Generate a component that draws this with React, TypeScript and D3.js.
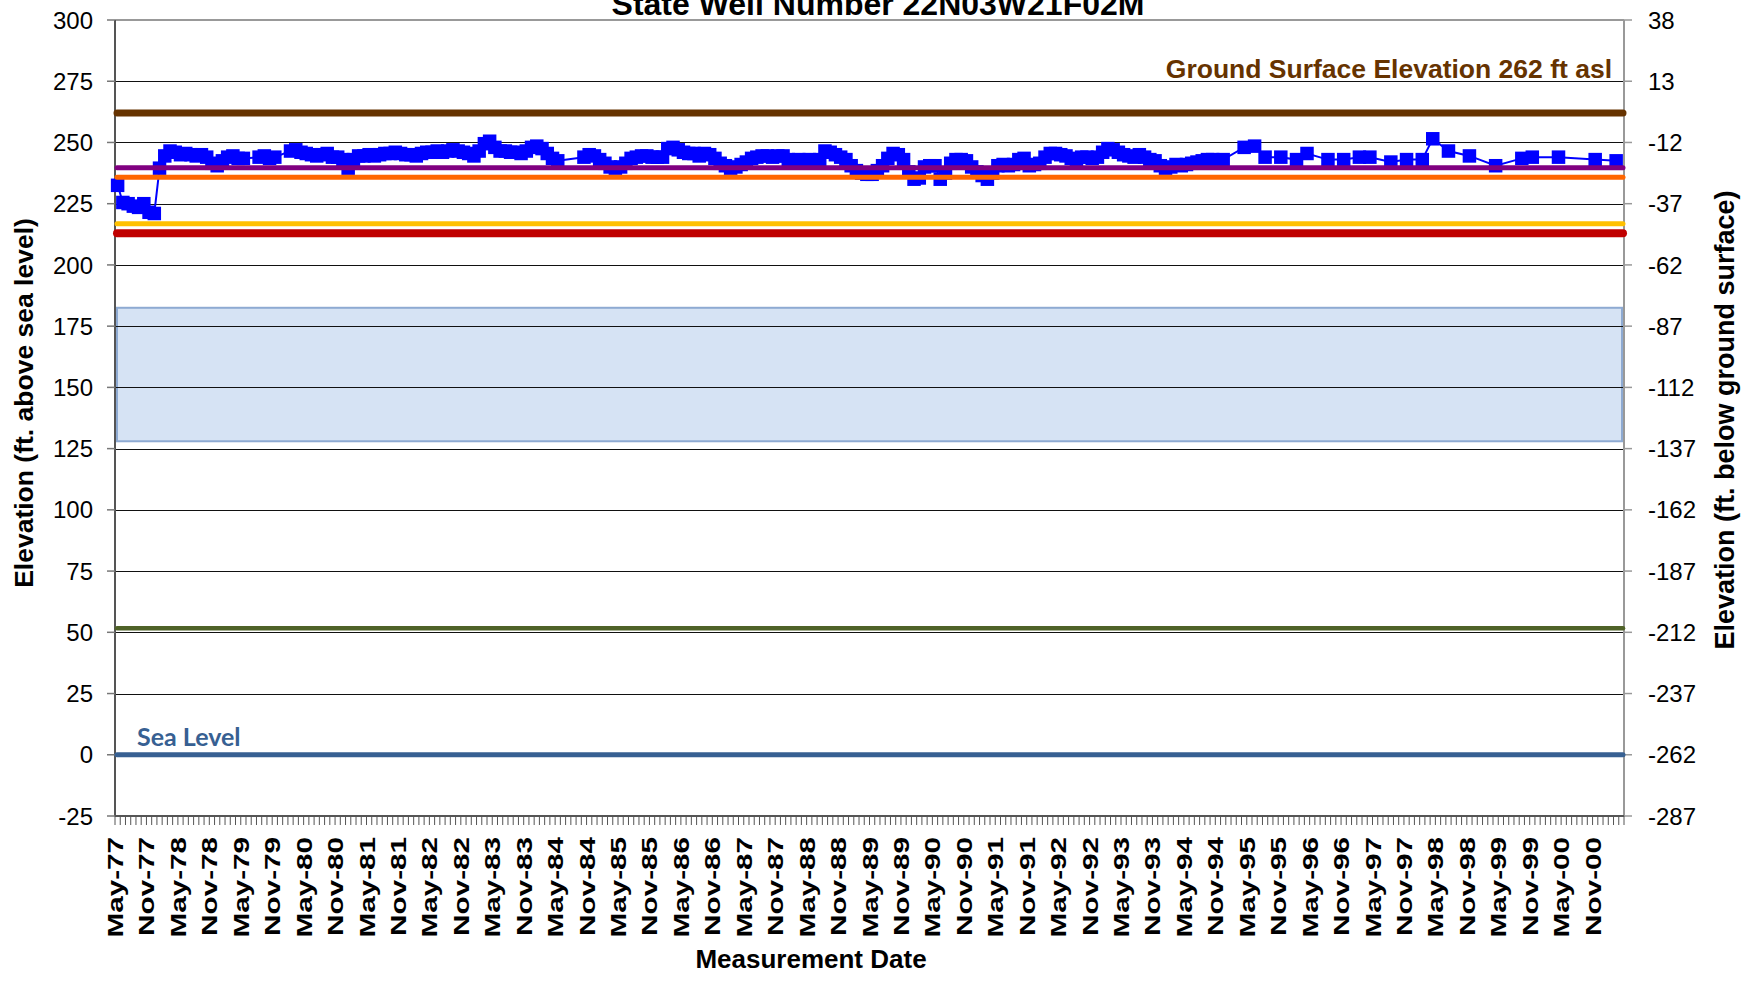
import React from "react";
import * as d3 from "d3";

// ---------- data ----------
const chartTitle = "State Well Number 22N03W21F02M";
const xAxisTitle = "Measurement Date";
const yLeftTitle = "Elevation (ft. above sea level)";
const yRightTitle = "Elevation (ft. below ground surface)";
const groundLabel = "Ground Surface Elevation 262 ft asl";
const seaLabel = "Sea Level";

const axisStartMonth = "1977-05";
const axisEndMonth = "2001-05"; // exclusive
const yTicksLeft = [-25, 0, 25, 50, 75, 100, 125, 150, 175, 200, 225, 250, 275, 300];
const yTicksRight = [-287, -262, -237, -212, -187, -162, -137, -112, -87, -62, -37, -12, 13, 38];

// horizontal reference levels (ft asl)
const groundSurface = 262;
const purpleLevel = 239.7;
const orangeLevel = 235.8;
const yellowLevel = 216.8;
const redLevel = 212.9;
const greenLevel = 51.7;
const seaLevel = 0;
const bandLow = 128;
const bandHigh = 182.5;

// monthly measurements starting May-77 (null = no measurement)
const monthlyStart = "1977-05";
const monthlyElev: (number | null)[] = [
  232.5, 225.5, 225, 224, 223.5, 225, 221.5, 221, 239.5, 244.5, 246.5, 246,
  245, 245.5, 245, 244.5, 245, 244, 241.5, 240.5, 242.5, 244, 244.5, 243.5,
  243.5, null, null, 244, 244.5, 243.5, 244, null, null, 246.5, 247, 246,
  245.5, 245, 244.5, 245, 245.5, 244, 244, 243, 239.5, 243, 244.5, 244.5,
  245, 244.5, 245, 245.5, 245.5, 246, 245.5, 245, 245, 244.5, 245.5, 246,
  246, 246.5, 246, 246.5, 247, 246.5, 246, 245.5, 244.5, 246.5, 249.5, 250.5,
  248, 246.5, 246.5, 246, 246, 245.5, 246.5, 248, 248.5, 247.5, 245.5, 243.5,
  242.5, null, null, null, null, 244, 245, 244.5, 243, 241.5, 240, 239.5,
  240, 241.5, 243.5, 244, 244.5, 244.5, 244, 244, 244, 247.5, 248, 247,
  246, 245.5, 245.5, 244.5, 245.5, 245, 243.5, 241.5, 240.5, 239.5, 240, 241,
  242, 243.5, 244, 244.5, 244.5, 244, 244.5, 244.5, 243, 242.5, 243, 242.5,
  243, 242.5, 243, 246.5, 246, 245, 244, 243, 240.5, 238.5, 237.5, 237,
  237, 238.5, 240.5, 243.5, 245.5, 245, 243, 238, 235, 235.5, 240, 240.5,
  240.5, 235, 237.5, 241.5, 243, 243, 242.5, 240, 238, 236.5, 235, 237.5,
  240.5, 241, 240.5, 241, 243, 243.5, 240.5, 241, 241.5, 244, 245.5, 245.5,
  245, 244.5, 243.5, 242.5, 244, 244, 243.5, 244, 246, 247.5, 247, 246,
  245, 244.5, 244, 245, 244, 243, 242.5, 240.5, 239.5, 240, 241, 240.5,
  241, 241.5, 242, 242.5, 243, 243, 242.5, 243, null, null, null, 248,
  null, 248.5,
];

// later, less frequent measurements
const laterDates = [
  "1995-08", "1995-11", "1996-02", "1996-04", "1996-08", "1996-11", "1997-02",
  "1997-04", "1997-08", "1997-11", "1998-02", "1998-04", "1998-07", "1998-11",
  "1999-04", "1999-09", "1999-11", "2000-04", "2000-11", "2001-03",
];
const laterElev = [
  244, 244, 243, 245.5, 243, 243, 244, 244, 242, 243, 243, 251.5, 246.5, 244.5,
  240.5, 243.5, 244, 244, 243, 242.5,
];

// ---------- component ----------
const FONT = "Arial, 'Liberation Sans', sans-serif";

function parseMonth(s: string) {
  const [yy, mm] = s.split("-").map(Number);
  return new Date(yy, mm - 1, 1);
}

export default function App() {
  const W = 1743;
  const H = 981;
  const L = 115;
  const R = 1624;
  const T = 20;
  const B = 816;

  const months = d3.timeMonth.range(parseMonth(axisStartMonth), parseMonth(axisEndMonth));
  const x = d3
    .scaleBand<number>()
    .domain(d3.range(months.length))
    .range([L, R])
    .padding(0);
  const bw = x.bandwidth();
  const y = d3.scaleLinear().domain([-25, 300]).range([B, T]);
  const yR = d3.scaleLinear().domain([-287, 38]).range([B, T]);
  const fmt = d3.timeFormat("%b-%y");

  const start0 = parseMonth(axisStartMonth);
  const idx = (s: string) => d3.timeMonth.count(start0, parseMonth(s));
  const cx = (i: number) => (x(i) as number) + bw / 2;

  const pts: { i: number; v: number }[] = [];
  const ms = idx(monthlyStart);
  monthlyElev.forEach((v, k) => {
    if (v != null) pts.push({ i: ms + k, v });
  });
  laterDates.forEach((d, k) => pts.push({ i: idx(d), v: laterElev[k] }));

  const line = d3
    .line<{ i: number; v: number }>()
    .x((d) => cx(d.i))
    .y((d) => y(d.v));

  const refs = [
    { v: groundSurface, c: "#663300", w: 7 },
    { v: purpleLevel, c: "#800080", w: 5 },
    { v: orangeLevel, c: "#FF6600", w: 5 },
    { v: yellowLevel, c: "#FFC000", w: 5 },
    { v: redLevel, c: "#C00000", w: 8 },
    { v: greenLevel, c: "#4F6228", w: 4.5 },
    { v: seaLevel, c: "#376092", w: 5 },
  ];

  const labelIdx = d3.range(0, months.length, 6).filter((i) => i <= 282);
  const ms2 = 13.5;

  return (
    <svg
      width={W}
      height={H}
      style={{ position: "absolute", left: 0, top: 0, display: "block", background: "#fff" }}
      fontFamily={FONT}
    >
      <rect x={0} y={0} width={W} height={H} fill="#ffffff" />

      {/* light-blue band */}
      <rect
        x={L + 2}
        y={y(bandHigh)}
        width={R - L - 4}
        height={y(bandLow) - y(bandHigh)}
        fill="#d6e3f4"
        stroke="#8eaad2"
        strokeWidth={2}
      />

      {/* gridlines */}
      {yTicksLeft
        .filter((v) => v !== -25 && v !== 300)
        .map((v) => (
          <line
            key={"g" + v}
            x1={L}
            x2={R}
            y1={Math.round(y(v)) + 0.5}
            y2={Math.round(y(v)) + 0.5}
            stroke="#111"
            strokeWidth={1.2}
          />
        ))}
      {/* top border */}
      <line x1={L} x2={R} y1={T} y2={T} stroke="#999" strokeWidth={2} />
      {/* right axis */}
      <line x1={R} x2={R} y1={T} y2={B} stroke="#999" strokeWidth={2} />
      {/* left axis */}
      <line x1={L} x2={L} y1={T} y2={B} stroke="#555" strokeWidth={2} />
      {/* bottom axis */}
      <line x1={L} x2={R} y1={B} y2={B} stroke="#555" strokeWidth={2} />

      {/* left ticks & labels */}
      {yTicksLeft.map((v) => (
        <g key={"lt" + v}>
          <line x1={L - 8} x2={L} y1={y(v)} y2={y(v)} stroke="#777" strokeWidth={1.5} />
          <text x={93} y={y(v)} dy="0.36em" textAnchor="end" fontSize={24} fill="#000">
            {v}
          </text>
        </g>
      ))}
      {/* right ticks & labels */}
      {yTicksRight.map((v) => (
        <g key={"rt" + v}>
          <line x1={R} x2={R + 8} y1={yR(v)} y2={yR(v)} stroke="#999" strokeWidth={1.5} />
          <text x={1648} y={yR(v)} dy="0.36em" textAnchor="start" fontSize={24} fill="#000">
            {v}
          </text>
        </g>
      ))}

      {/* x minor ticks */}
      {d3.range(months.length + 1).map((k) => {
        const xx = L + k * bw;
        return <line key={"xt" + k} x1={xx} x2={xx} y1={B} y2={B + 9} stroke="#555" strokeWidth={1} />;
      })}
      {/* x labels */}
      {labelIdx.map((i) => (
        <text
          key={"xl" + i}
          transform={`translate(${cx(i)},837) rotate(-90) scale(1.38,1)`}
          textAnchor="end"
          dy="0.25em"
          fontSize={21.5}
          fontWeight="bold"
          fill="#000"
        >
          {fmt(months[i])}
        </text>
      ))}

      {/* data */}
      <path d={line(pts) || ""} fill="none" stroke="#0000FF" strokeWidth={2} />
      {pts.map((p, k) => (
        <rect
          key={"p" + k}
          x={cx(p.i) - ms2 / 2}
          y={y(p.v) - ms2 / 2}
          width={ms2}
          height={ms2}
          fill="#0000FF"
        />
      ))}

      {/* reference lines */}
      {refs.map((r) => (
        <line
          key={"r" + r.v}
          x1={L + 2}
          x2={R - 1}
          y1={y(r.v)}
          y2={y(r.v)}
          stroke={r.c}
          strokeWidth={r.w}
          strokeLinecap="round"
        />
      ))}

      {/* annotations */}
      <text x={1612} y={78} textAnchor="end" fontSize={26.5} fontWeight="bold" fill="#663300">
        {groundLabel}
      </text>
      <text
        x={137}
        y={746}
        fontSize={25}
        fontWeight="bold"
        fill="#376092"
        fontFamily="Lato, 'Open Sans', sans-serif"
      >
        {seaLabel}
      </text>

      {/* titles */}
      <text x={878} y={15} textAnchor="middle" fontSize={32} fontWeight="bold" fill="#000">
        {chartTitle}
      </text>
      <text x={811} y={968} textAnchor="middle" fontSize={26} fontWeight="bold" fill="#000">
        {xAxisTitle}
      </text>
      <text
        transform="translate(25,403) rotate(-90)"
        textAnchor="middle"
        dy="0.3em"
        fontSize={26.5}
        fontWeight="bold"
        fill="#000"
      >
        {yLeftTitle}
      </text>
      <text
        transform="translate(1726,420) rotate(-90)"
        textAnchor="middle"
        dy="0.3em"
        fontSize={27}
        fontWeight="bold"
        fill="#000"
      >
        {yRightTitle}
      </text>
    </svg>
  );
}
